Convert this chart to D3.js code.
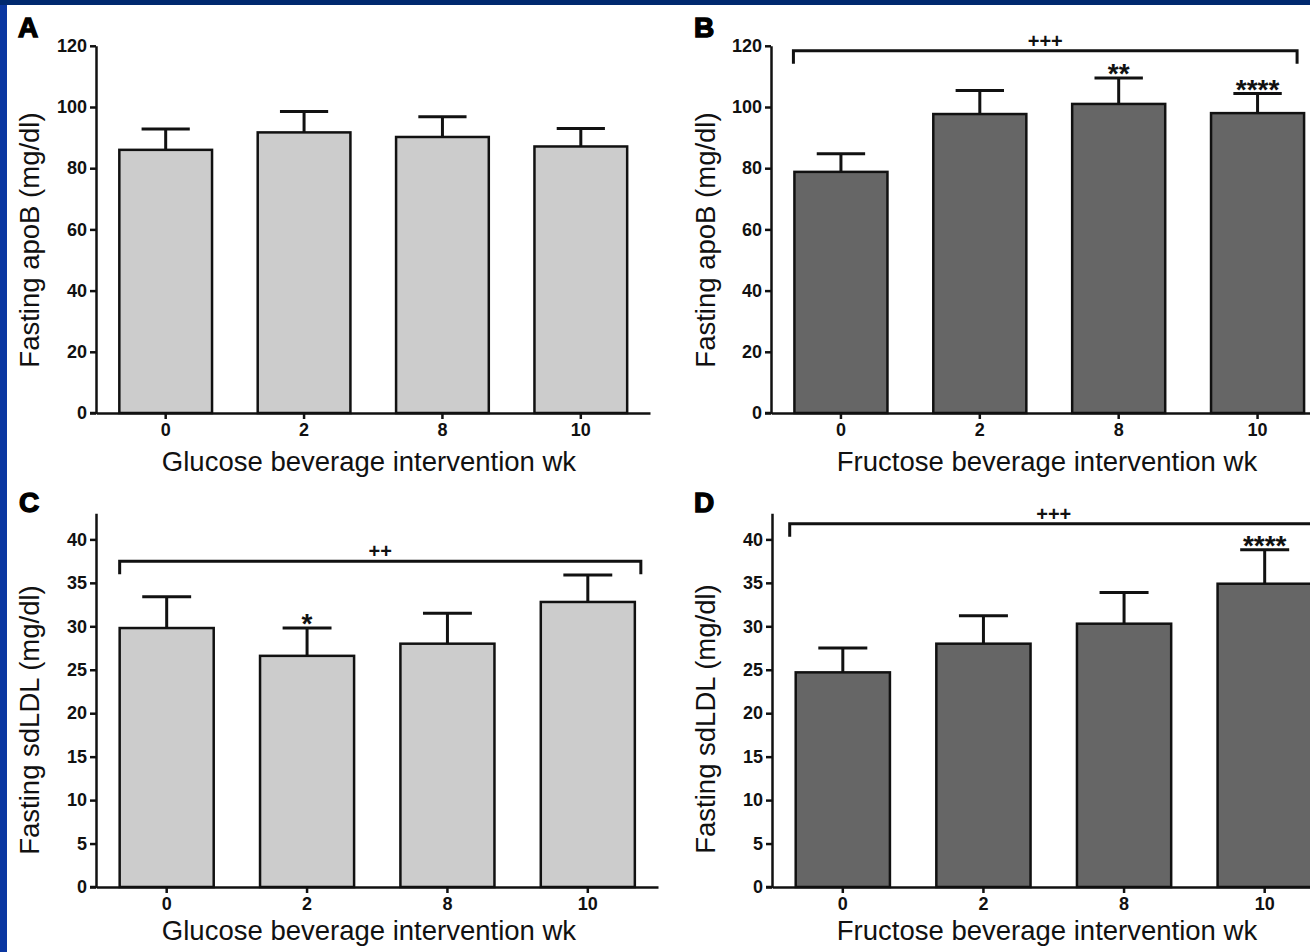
<!DOCTYPE html>
<html>
<head>
<meta charset="utf-8">
<script src="https://cdn.jsdelivr.net/npm/d3@7"></script>
<style>
  html, body { margin: 0; padding: 0; background: #ffffff; }
  svg { display: block; }
  text { font-family: "Liberation Sans", Arial, Helvetica, sans-serif; }
</style>
</head>
<body>
<svg id="fig" width="1310" height="952"></svg>
<script>
// Study weeks on every x axis
const weeks = ["0", "2", "8", "10"];

// A: fasting apoB, glucose beverage group (mg/dl, mean and upper SEM)
const glucoseApoB = [86.0, 91.7, 90.2, 87.1];
const glucoseApoBSem = [6.8, 6.8, 6.6, 5.9];
const glucoseApoBMarks = ["", "", "", ""];

// B: fasting apoB, fructose beverage group
const fructoseApoB = [78.8, 97.7, 101.0, 98.0];
const fructoseApoBSem = [5.9, 7.7, 8.5, 6.4];
const fructoseApoBMarks = ["", "", "**", "****"];

// C: fasting sdLDL, glucose beverage group
const glucoseSdLDL = [29.8, 26.6, 28.0, 32.8];
const glucoseSdLDLSem = [3.6, 3.2, 3.5, 3.1];
const glucoseSdLDLMarks = ["", "*", "", ""];

// D: fasting sdLDL, fructose beverage group
const fructoseSdLDL = [24.7, 28.0, 30.3, 34.9];
const fructoseSdLDLSem = [2.8, 3.2, 3.6, 3.9];
const fructoseSdLDLMarks = ["", "", "", "****"];

// Y tick labels
const apoBTicks = [0, 20, 40, 60, 80, 100, 120];
const sdLDLTicks = [0, 5, 10, 15, 20, 25, 30, 35, 40];

// Trend-over-time brackets (level in data units, label)
const trendB = { level: 118.4, label: "+++" };
const trendC = { level: 37.5, label: "++" };
const trendD = { level: 41.8, label: "+++" };

const LIGHT = "#cccccc", DARK = "#666666", INK = "#111111";
const TICK_FONT = "'Liberation Sans Narrow', 'Arial Narrow', 'Liberation Sans', Arial, sans-serif";

const svg = d3.select("#fig");

// slide frame
svg.append("rect").attr("x", 0).attr("y", 0).attr("width", 7).attr("height", 952).attr("fill", "#0a37a1");
svg.append("rect").attr("x", 0).attr("y", 0).attr("width", 1310).attr("height", 5).attr("fill", "#00296f");

const panels = [
  { letter: "A", lx: 18, ly: 37, ax: 96, right: 650, y0: 413, yMax: 120, pxPerUnit: 3.06,
    values: glucoseApoB, sem: glucoseApoBSem, marks: glucoseApoBMarks, ticks: apoBTicks,
    fill: LIGHT, ytitle: "Fasting apoB (mg/dl)", xtitle: "Glucose beverage intervention wk",
    ytx: 39, yty: 240, xtx: 369, xty: 471, trend: null, trendInset: [0, 0] },
  { letter: "B", lx: 694, ly: 37, ax: 771, right: 1327, y0: 413, yMax: 120, pxPerUnit: 3.06,
    values: fructoseApoB, sem: fructoseApoBSem, marks: fructoseApoBMarks, ticks: apoBTicks,
    fill: DARK, ytitle: "Fasting apoB (mg/dl)", xtitle: "Fructose beverage intervention wk",
    ytx: 715, yty: 240, xtx: 1047, xty: 471, trend: trendB, trendInset: [-1, 7] },
  { letter: "C", lx: 19, ly: 512, ax: 96, right: 658, y0: 887, yMax: 43, pxPerUnit: 8.69,
    values: glucoseSdLDL, sem: glucoseSdLDLSem, marks: glucoseSdLDLMarks, ticks: sdLDLTicks,
    fill: LIGHT, ytitle: "Fasting sdLDL (mg/dl)", xtitle: "Glucose beverage intervention wk",
    ytx: 39, yty: 720, xtx: 369, xty: 940, trend: trendC, trendInset: [0, -6] },
  { letter: "D", lx: 694, ly: 512, ax: 772, right: 1335, y0: 887, yMax: 43, pxPerUnit: 8.69,
    values: fructoseSdLDL, sem: fructoseSdLDLSem, marks: fructoseSdLDLMarks, ticks: sdLDLTicks,
    fill: DARK, ytitle: "Fasting sdLDL (mg/dl)", xtitle: "Fructose beverage intervention wk",
    ytx: 715, yty: 719, xtx: 1047, xty: 940, trend: trendD, trendInset: [-6, -6] }
];

panels.forEach(p => {
  const g = svg.append("g");
  const x = d3.scaleBand().domain(weeks).range([p.ax + 0.5, p.right])
    .paddingInner(0.33).paddingOuter(0.165);
  const y = d3.scaleLinear().domain([0, p.yMax]).range([p.y0, p.y0 - p.yMax * p.pxPerUnit]);

  const rows = weeks.map((w, i) => ({ w, v: p.values[i], e: p.values[i] + p.sem[i], m: p.marks[i] }));

  // error bars (upper only), drawn under the bars
  const eb = g.append("g").attr("stroke", INK).attr("stroke-width", 3).attr("fill", "none");
  eb.selectAll("line.stem").data(rows).join("line").attr("class", "stem")
    .attr("x1", d => x(d.w) + x.bandwidth() / 2).attr("x2", d => x(d.w) + x.bandwidth() / 2)
    .attr("y1", d => y(d.v)).attr("y2", d => y(d.e));
  eb.selectAll("line.cap").data(rows).join("line").attr("class", "cap")
    .attr("x1", d => x(d.w) + x.bandwidth() * 0.24).attr("x2", d => x(d.w) + x.bandwidth() * 0.76)
    .attr("y1", d => y(d.e)).attr("y2", d => y(d.e));

  // bars
  g.selectAll("rect.bar").data(rows).join("rect").attr("class", "bar")
    .attr("x", d => x(d.w)).attr("width", x.bandwidth())
    .attr("y", d => y(d.v)).attr("height", d => y(0) - y(d.v))
    .attr("fill", p.fill).attr("stroke", INK).attr("stroke-width", 2.5);

  // significance marks above error caps
  g.selectAll("text.mark").data(rows.filter(d => d.m)).join("text").attr("class", "mark")
    .attr("x", d => x(d.w) + x.bandwidth() / 2).attr("y", d => y(d.e) + 5)
    .attr("text-anchor", "middle").attr("font-size", 28).attr("font-weight", "bold")
    .attr("fill", INK).text(d => d.m);

  // trend bracket spanning week 0 to week 10
  if (p.trend) {
    const x1 = x(weeks[0]) + p.trendInset[0];
    const x2 = x(weeks[weeks.length - 1]) + x.bandwidth() - p.trendInset[1];
    const ly = y(p.trend.level);
    g.append("path")
      .attr("d", `M${x1},${ly + 13}V${ly}H${x2}V${ly + 13}`)
      .attr("fill", "none").attr("stroke", INK).attr("stroke-width", 3);
    g.append("text").attr("x", (x1 + x2) / 2).attr("y", ly - 3)
      .attr("text-anchor", "middle").attr("font-size", 20).attr("font-weight", "bold")
      .attr("fill", INK).text(p.trend.label);
  }

  // axes
  const yAxis = g.append("g").attr("transform", `translate(${p.ax},0)`)
    .call(d3.axisLeft(y).tickValues(p.ticks).tickSize(6).tickPadding(3).tickSizeOuter(0));
  const xAxis = g.append("g").attr("transform", `translate(0,${p.y0})`)
    .call(d3.axisBottom(x).tickSize(6).tickPadding(4).tickSizeOuter(0));
  [yAxis, xAxis].forEach(a => {
    a.select(".domain").attr("stroke", INK).attr("stroke-width", 2.5);
    a.selectAll(".tick line").attr("stroke", INK).attr("stroke-width", 2.5);
    a.selectAll(".tick text").attr("font-size", 18).attr("font-weight", "bold")
      .attr("fill", INK).style("font-family", TICK_FONT);
  });
  // extend the x baseline to meet the y axis
  g.append("line").attr("x1", p.ax - 6).attr("x2", p.ax + 1).attr("y1", p.y0).attr("y2", p.y0)
    .attr("stroke", INK).attr("stroke-width", 2.5);

  // axis titles
  g.append("text").attr("transform", `translate(${p.ytx},${p.yty}) rotate(-90)`)
    .attr("text-anchor", "middle").attr("font-size", 27.5).attr("fill", INK).text(p.ytitle);
  g.append("text").attr("x", p.xtx).attr("y", p.xty)
    .attr("text-anchor", "middle").attr("font-size", 27.5).attr("fill", INK).text(p.xtitle);

  // panel letter
  g.append("text").attr("x", p.lx).attr("y", p.ly)
    .attr("font-size", 28).attr("font-weight", "bold").attr("fill", "#000")
    .attr("stroke", "#000").attr("stroke-width", 1.4).text(p.letter);
});
</script>
</body>
</html>
